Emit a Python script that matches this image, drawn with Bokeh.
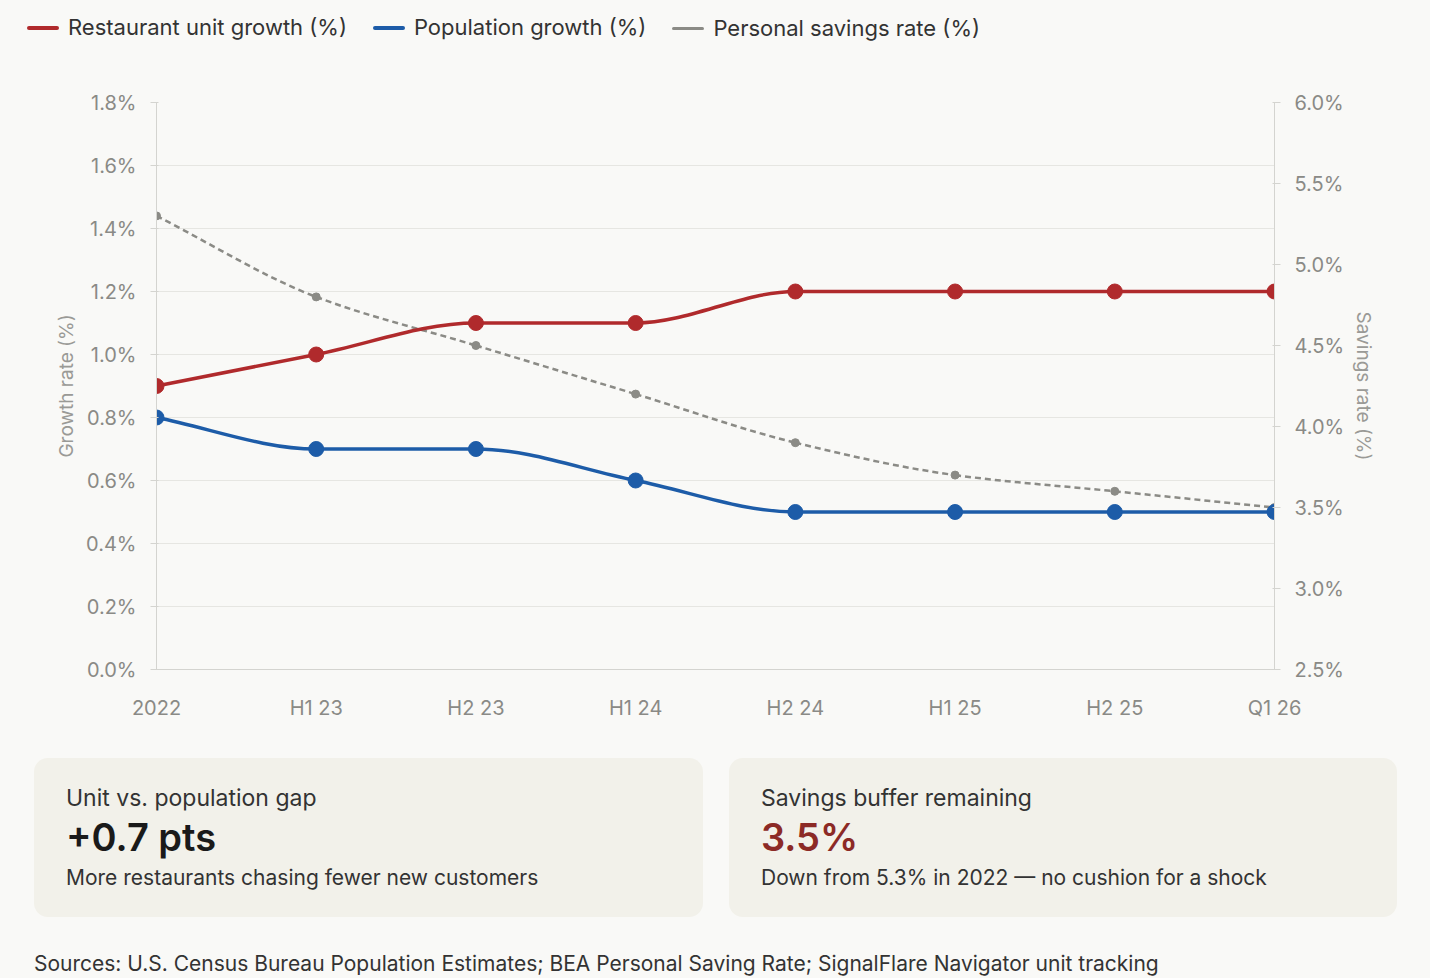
import numpy as np
from bokeh.plotting import figure
from bokeh.models import Range1d, LinearAxis, PrintfTickFormatter, Div, FixedTicker, ColumnDataSource
from bokeh.layouts import column, row
from bokeh.embed import file_html
from bokeh.resources import INLINE

periods = ["2022", "H1 23", "H2 23", "H1 24", "H2 24", "H1 25", "H2 25", "Q1 26"]
restaurant = [0.9, 1.0, 1.1, 1.1, 1.2, 1.2, 1.2, 1.2]
population = [0.8, 0.7, 0.7, 0.6, 0.5, 0.5, 0.5, 0.5]
savings = [5.3, 4.8, 4.5, 4.2, 3.9, 3.7, 3.6, 3.5]
series_names = ["Restaurant unit growth (%)", "Population growth (%)", "Personal savings rate (%)"]

RED = "#b02a2c"; BLUE = "#1d5ca8"; GRAY = "#8b8b86"; BG = "#f9f9f7"
FONT = "Inter"

def mono(xs, ys):
    xs = np.asarray(xs, float); ys = np.asarray(ys, float)
    h = np.diff(xs); d = np.diff(ys) / h
    m = np.zeros(len(xs))
    m[0], m[-1] = d[0], d[-1]
    for i in range(1, len(xs) - 1):
        m[i] = 0 if d[i-1] * d[i] <= 0 else 2 / (1/d[i-1] + 1/d[i])
    return dict(x0=xs[:-1], y0=ys[:-1], x1=xs[1:], y1=ys[1:],
                cx0=xs[:-1] + h/3, cy0=ys[:-1] + m[:-1]*h/3,
                cx1=xs[1:] - h/3, cy1=ys[1:] - m[1:]*h/3)

x = list(range(len(periods)))
p = figure(width=1387, height=664, output_backend="svg", toolbar_location=None,
           x_range=Range1d(0, 7), y_range=Range1d(0, 1.8),
           min_border_left=156, min_border_right=113, min_border_top=35, min_border_bottom=62,
           background_fill_color=BG, border_fill_color=BG, outline_line_color=None)
p.extra_y_ranges = {"sav": Range1d(2.5, 6.0)}
p.xgrid.visible = False
p.ygrid.grid_line_color = "#e6e6e2"
p.ygrid.ticker = FixedTicker(ticks=[round(0.2*i, 1) for i in range(10)])

p.xaxis.ticker = FixedTicker(ticks=x)
p.xaxis.major_label_overrides = {i: s for i, s in enumerate(periods)}
p.yaxis.ticker = FixedTicker(ticks=[round(0.2*i, 1) for i in range(10)])
p.yaxis.formatter = PrintfTickFormatter(format="%.1f%%")
p.yaxis.axis_label = "Growth rate (%)"
ra = LinearAxis(y_range_name="sav", axis_label="Savings rate (%)",
                ticker=FixedTicker(ticks=[2.5, 3.0, 3.5, 4.0, 4.5, 5.0, 5.5, 6.0]),
                formatter=PrintfTickFormatter(format="%.1f%%"))
p.add_layout(ra, "right")
for ax in [p.xaxis[0], p.yaxis[0], ra]:
    ax.axis_line_color = "#d4d4d0"
    ax.major_tick_line_color = "#d4d4d0"
    ax.major_tick_out = 6
    ax.minor_tick_line_color = None
    ax.major_label_text_font = FONT
    ax.major_label_text_font_size = "20px"
    ax.major_label_text_color = "#8a8a86"
    ax.major_label_standoff = 14
    ax.axis_label_text_font = FONT
    ax.axis_label_text_font_size = "19px"
    ax.axis_label_text_font_style = "normal"
    ax.axis_label_text_color = "#9a9a96"
p.xaxis.major_tick_line_color = None
p.xaxis.major_label_standoff = 20

p.bezier(source=ColumnDataSource(mono(x, savings)), x0="x0", y0="y0", x1="x1", y1="y1",
         cx0="cx0", cy0="cy0", cx1="cx1", cy1="cy1", line_color=GRAY, line_width=2.5,
         line_dash="6 4", y_range_name="sav")
p.scatter(x, savings, size=8, color=GRAY, y_range_name="sav")
for ys, c in [(population, BLUE), (restaurant, RED)]:
    p.bezier(source=ColumnDataSource(mono(x, ys)), x0="x0", y0="y0", x1="x1", y1="y1",
             cx0="cx0", cy0="cy0", cx1="cx1", cy1="cy1", line_color=c, line_width=3.5)
    p.scatter(x, ys, size=15, color=c)

items = ""
for name, c, hgt in zip(series_names, [RED, BLUE, GRAY], [4, 4, 3]):
    items += (f'<span style="display:inline-flex;align-items:center;margin-right:26px">'
              f'<span style="display:inline-block;width:32px;height:{hgt}px;background:{c};border-radius:2px;margin-right:9px"></span>'
              f'<span style="font-family:Inter;font-size:22px;color:#333">{name}</span></span>')
leg = Div(text=f'<div style="white-space:nowrap">{items}</div>', width=1300, height=50,
          styles={"margin-left": "27px", "margin-top": "12px"})

def card(title, val, sub, vcolor, w):
    html = (f'<div style="font-family:Inter;color:#333;font-size:23px;margin-bottom:2px">{title}</div>'
            f'<div style="font-family:Inter;color:{vcolor};font-size:38px;font-weight:600;line-height:1.1">{val}</div>'
            f'<div style="font-family:Inter;color:#333;font-size:21px;margin-top:4px">{sub}</div>')
    return Div(text=html, width=w, height=159,
               styles={"background-color": "#f2f1ea", "border-radius": "14px",
                       "padding": "24px 32px", "box-sizing": "border-box"})

c1 = card("Unit vs. population gap", "+0.7 pts", "More restaurants chasing fewer new customers", "#1a1a1a", 669)
c2 = card("Savings buffer remaining", "3.5%", "Down from 5.3% in 2022 — no cushion for a shock", "#8c2a26", 668)
cards = row(c1, c2, spacing=16, styles={"margin-left": "29px"})
src = Div(text='<div style="font-family:Inter;color:#333;font-size:21px">Sources: U.S. Census Bureau Population Estimates; BEA Personal Saving Rate; SignalFlare Navigator unit tracking</div>',
          width=1300, height=30, styles={"margin-left": "34px"})
top = column(leg, p, spacing=0)
layout = column(top, cards, src, spacing=22, styles={"background-color": BG})

html = file_html(layout, INLINE).replace("<body>", f'<body style="background:{BG}">')
open("out.html", "w").write(html)
